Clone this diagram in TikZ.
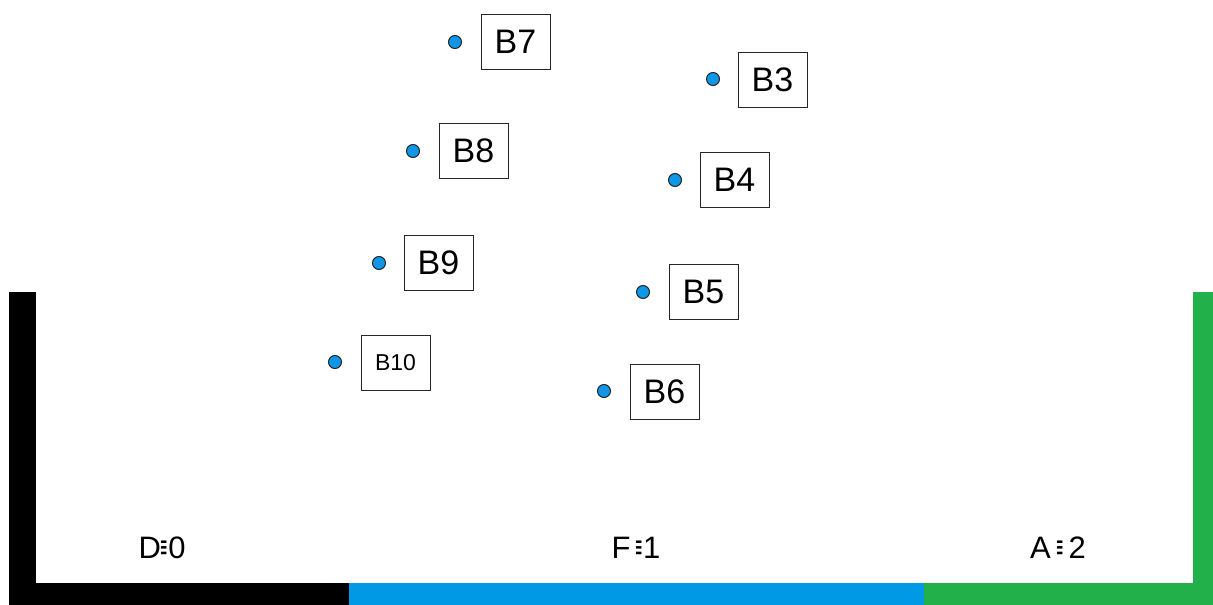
\documentclass[tikz,border=0pt]{standalone}
\usepackage{fontspec}
\setmainfont{Liberation Sans}
\newfontfamily\symfont{DejaVu Sans}
\usepackage{graphicx}
\definecolor{barblue}{RGB}{0,153,230}
\definecolor{bargreen}{RGB}{34,176,75}
\definecolor{dotblue}{RGB}{16,150,230}
\newcommand{\teq}{\raisebox{1.5pt}{\scalebox{0.4}[1.4]{\symfont\fontsize{22}{22}\selectfont ≡}}}
\begin{document}
\begin{tikzpicture}[x=1pt,y=-1pt,
  pt/.style={circle,draw=black!85,line width=1pt,fill=dotblue,minimum size=13pt,inner sep=0pt},
  lbl/.style={draw=black!85,line width=1pt,minimum width=69pt,minimum height=55pt,inner sep=0pt,font=\fontsize{34}{34}\selectfont},
  lblsmall/.style={lbl,font=\fontsize{23}{23}\selectfont},
  cat/.style={font=\fontsize{31}{31}\selectfont,inner sep=0pt}]
\useasboundingbox (0,0) rectangle (1213,605);
% bars
\fill[black] (9,292) rectangle (36,605);
\fill[black] (9,583) rectangle (349,605);
\fill[barblue] (349,583) rectangle (924,605);
\fill[bargreen] (924,583) rectangle (1213,605);
\fill[bargreen] (1193,292) rectangle (1213,605);
% points
\node[pt] (p7) at (455,42) {};
\node[lbl] (b7) at (515.5,41.5) {B7};
\node[pt] (p3) at (713,79) {};
\node[lbl] (b3) at (772.5,79.5) {B3};
\node[pt] (p8) at (413,151) {};
\node[lbl] (b8) at (473.5,151) {B8};
\node[pt] (p4) at (675,180) {};
\node[lbl] (b4) at (734.5,179.5) {B4};
\node[pt] (p9) at (379,263) {};
\node[lbl] (b9) at (438.5,263) {B9};
\node[pt] (p5) at (643,292) {};
\node[lbl] (b5) at (703.5,291.5) {B5};
\node[pt] (p10) at (335,362) {};
\node[lblsmall] (b10) at (395.5,362.5) {B10};
\node[pt] (p6) at (604,391) {};
\node[lbl] (b6) at (664.5,391.5) {B6};
% category labels
\node[cat] (d) at (162,548) {D\teq0};
\node[cat] (f) at (636,548) {F\,\teq1};
\node[cat] (a) at (1058,548) {A\,\teq\,2};
\end{tikzpicture}
\end{document}
